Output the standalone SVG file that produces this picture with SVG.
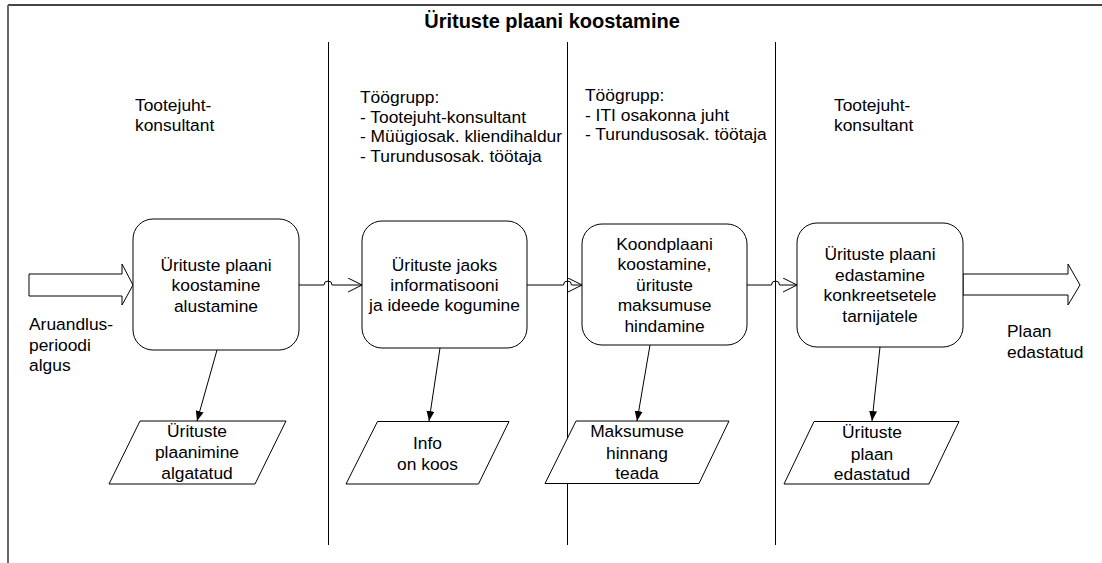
<svg xmlns="http://www.w3.org/2000/svg" width="1102" height="563" viewBox="0 0 1102 563">
  <style>
    .t { font-family: "Liberation Sans", Arial, sans-serif; font-size: 17.4px; fill: #000; }
    .c { text-anchor: middle; }
    .title { font-family: "Liberation Sans", Arial, sans-serif; font-size: 20px; font-weight: bold; text-anchor: middle; fill: #000; }
    .box { fill: #fff; stroke: #000; stroke-width: 1; }
    .lane { stroke: #000; stroke-width: 1; fill: none; }
    .flow { stroke: #000; stroke-width: 1; fill: none; }
  </style>
  <defs>
    <marker id="open" markerUnits="userSpaceOnUse" markerWidth="16" markerHeight="16" refX="14" refY="7" orient="auto">
      <path d="M0,0 L14,7 L0,14" fill="none" stroke="#000" stroke-width="1"/>
    </marker>
    <marker id="solid" markerUnits="userSpaceOnUse" markerWidth="12" markerHeight="10" refX="10" refY="4" orient="auto">
      <path d="M0,0 L10,4 L0,8 z" fill="#000"/>
    </marker>
  </defs>

  <rect width="1102" height="563" fill="#fff"/>

  <!-- page frame -->
  <line x1="8" y1="5" x2="1102" y2="5" stroke="#444" stroke-width="2"/>
  <line x1="8" y1="5" x2="8" y2="563" stroke="#6a6a6a" stroke-width="2"/>

  <text class="title" x="552" y="28">Ürituste plaani koostamine</text>

  <!-- swimlane separators -->
  <g id="lanes">
    <line class="lane" x1="328.5" y1="42" x2="328.5" y2="545"/>
    <line class="lane" x1="567.5" y1="42" x2="567.5" y2="545"/>
    <line class="lane" x1="775.5" y1="42" x2="775.5" y2="545"/>
  </g>

  <!-- lane headers -->
  <g id="lane1-header">
    <text class="t" x="135" y="111">Tootejuht-</text>
    <text class="t" x="135" y="131">konsultant</text>
  </g>
  <g id="lane2-header">
    <text class="t" x="360" y="103">Töögrupp:</text>
    <text class="t" x="360" y="122.5">- Tootejuht-konsultant</text>
    <text class="t" x="360" y="142">- Müügiosak. kliendihaldur</text>
    <text class="t" x="360" y="161.5">- Turundusosak. töötaja</text>
  </g>
  <g id="lane3-header">
    <text class="t" x="585" y="101">Töögrupp:</text>
    <text class="t" x="585" y="120.5">- ITI osakonna juht</text>
    <text class="t" x="585" y="140">- Turundusosak. töötaja</text>
  </g>
  <g id="lane4-header">
    <text class="t" x="834" y="111">Tootejuht-</text>
    <text class="t" x="834" y="131">konsultant</text>
  </g>

  <!-- start event -->
  <g id="start">
    <polygon class="box" points="29,274 122,274 122,264 133,285 122,305 122,296 29,296"/>
    <text class="t" x="29" y="330">Aruandlus-</text>
    <text class="t" x="29" y="350.5">perioodi</text>
    <text class="t" x="29" y="371">algus</text>
  </g>

  <!-- end event -->
  <g id="end">
    <polygon class="box" points="963,274 1068,274 1068,264 1080,285 1068,305 1068,295 963,295"/>
    <text class="t" x="1007" y="337">Plaan</text>
    <text class="t" x="1007" y="357.5">edastatud</text>
  </g>

  <!-- connectors -->
  <g id="connectors">
    <path class="flow" d="M299,285 H324 a4,4 0 0 1 8,0 H362" marker-end="url(#open)"/>
    <path class="flow" d="M527,285 H563.5 a4,4 0 0 1 8,0 H582" marker-end="url(#open)"/>
    <path class="flow" d="M747,285 H771.5 a4,4 0 0 1 8,0 H797" marker-end="url(#open)"/>
    <line class="flow" x1="217" y1="350" x2="197" y2="421" marker-end="url(#solid)"/>
    <line class="flow" x1="440" y1="348" x2="429" y2="421" marker-end="url(#solid)"/>
    <line class="flow" x1="650" y1="345" x2="637" y2="421" marker-end="url(#solid)"/>
    <line class="flow" x1="880" y1="347" x2="872" y2="421" marker-end="url(#solid)"/>
  </g>

  <!-- activities -->
  <g id="task1">
    <rect class="box" x="133" y="219" width="166" height="131" rx="20"/>
    <text class="t c" x="216" y="270.5">Ürituste plaani</text>
    <text class="t c" x="216" y="291">koostamine</text>
    <text class="t c" x="216" y="311.5">alustamine</text>
  </g>
  <g id="task2">
    <rect class="box" x="362" y="221" width="165" height="127" rx="20"/>
    <text class="t c" x="444.5" y="271">Ürituste jaoks</text>
    <text class="t c" x="444.5" y="291">informatisooni</text>
    <text class="t c" x="444.5" y="311">ja ideede kogumine</text>
  </g>
  <g id="task3">
    <rect class="box" x="582" y="224" width="165" height="121" rx="20"/>
    <text class="t c" x="664.5" y="249.5">Koondplaani</text>
    <text class="t c" x="664.5" y="270">koostamine,</text>
    <text class="t c" x="664.5" y="290.5">ürituste</text>
    <text class="t c" x="664.5" y="311">maksumuse</text>
    <text class="t c" x="664.5" y="331.5">hindamine</text>
  </g>
  <g id="task4">
    <rect class="box" x="797" y="223" width="166" height="124" rx="20"/>
    <text class="t c" x="880" y="260">Ürituste plaani</text>
    <text class="t c" x="880" y="280.5">edastamine</text>
    <text class="t c" x="880" y="301">konkreetsetele</text>
    <text class="t c" x="880" y="321.5">tarnijatele</text>
  </g>

  <!-- results -->
  <g id="result1">
    <polygon class="box" points="140,421 286,421 255,484 109,484"/>
    <text class="t c" x="197" y="437">Ürituste</text>
    <text class="t c" x="197" y="458">plaanimine</text>
    <text class="t c" x="197" y="479">algatatud</text>
  </g>
  <g id="result2">
    <polygon class="box" points="377.5,421.5 509,421.5 478.5,484 346,484"/>
    <text class="t c" x="427.5" y="448.5">Info</text>
    <text class="t c" x="427.5" y="469.5">on koos</text>
  </g>
  <g id="result3">
    <polygon class="box" points="576,421 729,421 699,483.5 545,483.5"/>
    <text class="t c" x="637" y="437">Maksumuse</text>
    <text class="t c" x="637" y="458.5">hinnang</text>
    <text class="t c" x="637" y="479">teada</text>
  </g>
  <g id="result4">
    <polygon class="box" points="814,421.5 959,421.5 929,484 784,484"/>
    <text class="t c" x="872" y="438">Ürituste</text>
    <text class="t c" x="872" y="459.5">plaan</text>
    <text class="t c" x="872" y="480">edastatud</text>
  </g>
</svg>
